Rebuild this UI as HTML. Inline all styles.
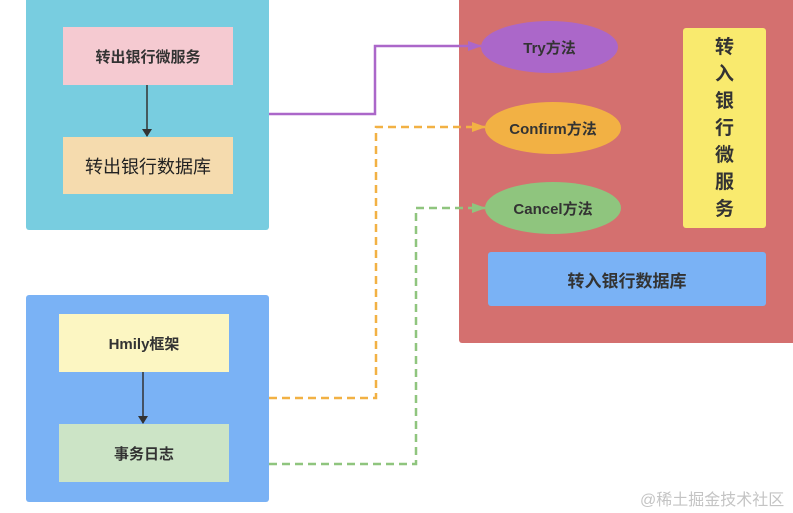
<!DOCTYPE html>
<html><head><meta charset="utf-8"><style>
body{margin:0;width:793px;height:513px;background:#fff;overflow:hidden;position:relative;font-family:"Liberation Sans","Noto Sans CJK SC",sans-serif;}
.b{position:absolute;box-sizing:border-box;display:flex;align-items:center;justify-content:center;color:#333;font-weight:bold;font-size:15px;}
</style></head><body>
<div class="b" style="left:26px;top:-4px;width:243px;height:234px;background:#78cde0;border-radius:3px"></div>
<div class="b" style="left:63px;top:27px;width:170px;height:58px;background:#f5cad1">转出银行微服务</div>
<div class="b" style="left:63px;top:137px;width:170px;height:57px;background:#f5dbae;font-size:18px;font-weight:normal;color:#222">转出银行数据库</div>
<div class="b" style="left:459px;top:-4px;width:340px;height:347px;background:#d4706f;border-radius:3px"></div>
<div class="b" style="left:683px;top:28px;width:83px;height:200px;background:#f9ea6e;border-radius:3px;font-size:19px;line-height:27px;text-align:center;padding:0 30px">转入银行微服务</div>
<div class="b" style="left:488px;top:252px;width:278px;height:54px;background:#7ab2f5;border-radius:3px;font-size:17px">转入银行数据库</div>
<div class="b" style="left:481px;top:21px;width:137px;height:52px;background:#ab67c9;border-radius:50%">Try方法</div>
<div class="b" style="left:485px;top:102px;width:136px;height:52px;background:#f2b144;border-radius:50%">Confirm方法</div>
<div class="b" style="left:485px;top:182px;width:136px;height:52px;background:#8fc57e;border-radius:50%">Cancel方法</div>
<div class="b" style="left:26px;top:295px;width:243px;height:207px;background:#7ab2f5;border-radius:3px"></div>
<div class="b" style="left:59px;top:314px;width:170px;height:58px;background:#fcf6c2">Hmily框架</div>
<div class="b" style="left:59px;top:424px;width:170px;height:58px;background:#cce4c6">事务日志</div>
<svg style="position:absolute;left:0;top:0" width="793" height="513">
<defs>
<marker id="k" markerWidth="8" markerHeight="10" refX="7" refY="5" orient="auto" markerUnits="userSpaceOnUse"><path d="M0,0L8,5L0,10z" fill="#333"/></marker>
<marker id="p" markerWidth="14" markerHeight="10" refX="13" refY="5" orient="auto" markerUnits="userSpaceOnUse"><path d="M0,0L14,5L0,10z" fill="#ab67c9"/></marker>
<marker id="o" markerWidth="14" markerHeight="10" refX="13" refY="5" orient="auto" markerUnits="userSpaceOnUse"><path d="M0,0L14,5L0,10z" fill="#f2b144"/></marker>
<marker id="g" markerWidth="14" markerHeight="10" refX="13" refY="5" orient="auto" markerUnits="userSpaceOnUse"><path d="M0,0L14,5L0,10z" fill="#8fc57e"/></marker>
</defs>
<line x1="147" y1="85" x2="147" y2="136" stroke="#333" stroke-width="1.5" marker-end="url(#k)"/>
<line x1="143" y1="372" x2="143" y2="423" stroke="#333" stroke-width="1.5" marker-end="url(#k)"/>
<polyline points="269,114 375,114 375,46 481,46" fill="none" stroke="#ab67c9" stroke-width="2.5" marker-end="url(#p)"/>
<polyline points="269,398 376,398 376,127 485,127" fill="none" stroke="#f2b144" stroke-width="2.5" stroke-dasharray="8,5" marker-end="url(#o)"/>
<polyline points="269,464 416,464 416,208 485,208" fill="none" stroke="#8fc57e" stroke-width="2.5" stroke-dasharray="8,5" marker-end="url(#g)"/>
</svg>
<div style="position:absolute;left:640px;top:486px;font-size:16px;color:#c4c4c4;font-family:'Liberation Sans','Noto Sans CJK SC',sans-serif">@稀土掘金技术社区</div>
</body></html>
